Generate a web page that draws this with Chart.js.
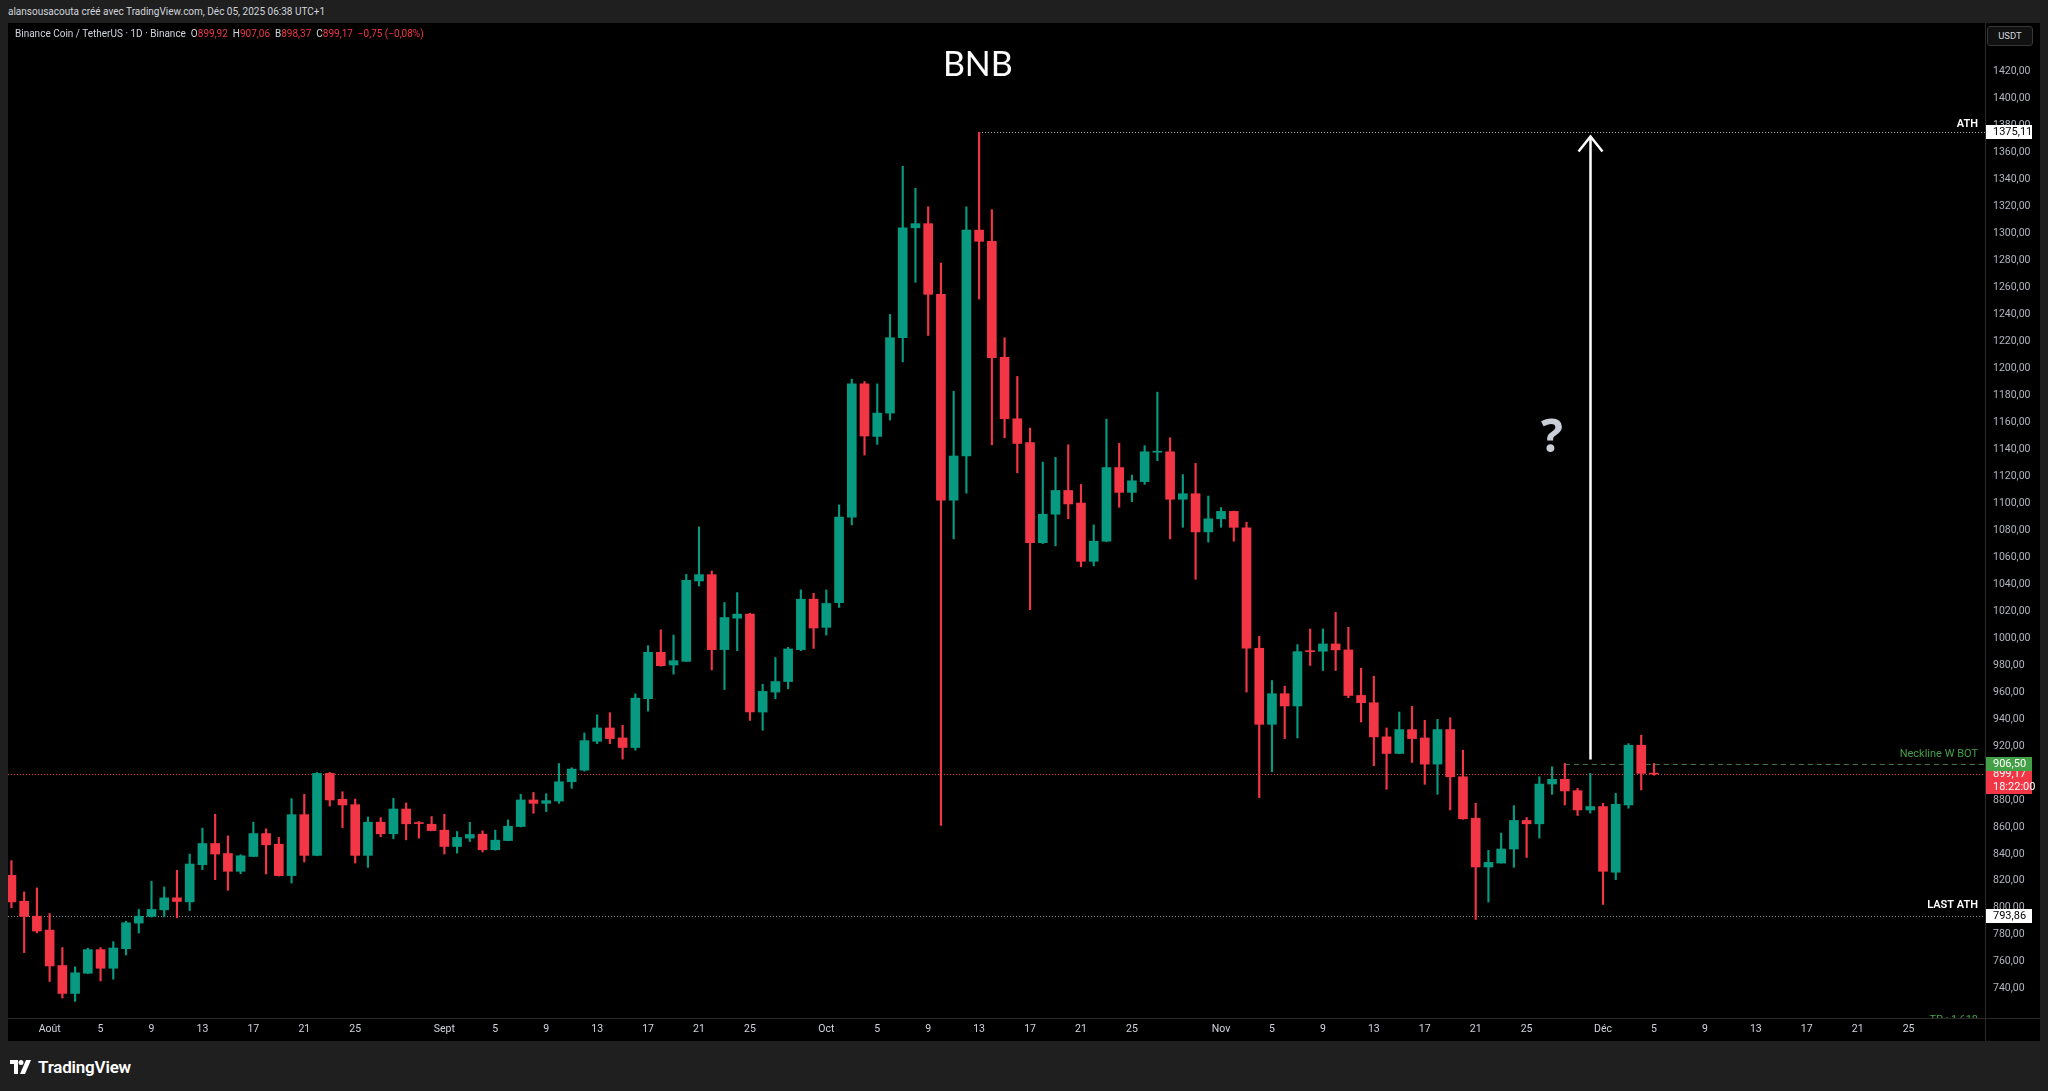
<!DOCTYPE html>
<html>
<head>
<meta charset="utf-8">
<script src="https://cdn.jsdelivr.net/npm/chart.js@4.4.0/dist/chart.umd.min.js"></script>
<style>
  html, body { margin: 0; padding: 0; width: 2048px; height: 1091px; overflow: hidden; background: #1f1f1f; font-family: Roboto, 'DejaVu Sans', sans-serif; }
  #topline { position: absolute; left: 8px; top: 6px; font-size: 10px; color: #d1d4dc; white-space: nowrap; }
  #pane { position: absolute; left: 8px; top: 23px; width: 2032px; height: 1018px; background: #000; }
  #legend { position: absolute; left: 15px; top: 28px; font-size: 10px; color: #d1d4dc; white-space: nowrap; z-index: 2; }
  #legend .v { color: #f23645; }
  #usdt { position: absolute; left: 1987px; top: 26px; width: 46px; height: 20px; box-sizing: border-box; border: 1px solid #363636; border-radius: 3px; background: #111; color: #d1d4dc; font-size: 9.5px; line-height: 18px; text-align: center; z-index: 2; }
  #logo { position: absolute; left: 10px; top: 1057px; color: #fff; font-size: 17px; font-weight: 600; display: flex; align-items: center; gap: 6px; letter-spacing: -0.2px; }
</style>
</head>
<body>
<div id="topline">alansousacouta créé avec TradingView.com, Déc 05, 2025 06:38 UTC+1</div>
<div id="pane"><canvas id="chart"></canvas></div>
<div id="legend">Binance Coin / TetherUS · 1D · Binance &nbsp;O<span class="v">899,92</span> &nbsp;H<span class="v">907,06</span> &nbsp;B<span class="v">898,37</span> &nbsp;C<span class="v">899,17</span> &nbsp;<span class="v">−0,75 (−0,08%)</span></div>
<div id="usdt">USDT</div>
<div id="logo">
  <svg width="22" height="14" viewBox="0 0 22 14"><path d="M0 0h8v14H4V4H0z" fill="#fff"/><circle cx="11" cy="2.5" r="2.5" fill="#fff"/><path d="M16 0h5l-6 14h-5z" fill="#fff"/></svg>
  <span>TradingView</span>
</div>
<script>
// daily candles, 29 Jul 2025 -> 5 Dec 2025 (index 0 = 29 Jul)
const opens = [824.1,804.9,793.8,783.5,757.2,736.5,751.5,769.0,755.2,769.7,788.7,793.6,798.5,807.4,804.4,832.0,847.7,840.3,827.1,838.1,
  855.1,847.2,823.9,869.1,838.9,899.7,880.5,876.5,838.9,863.5,854.9,873.3,862.8,862.0,857.6,845.5,851.7,854.6,843.1,849.9,
  860.3,880.0,877.5,879.2,893.5,902.1,923.5,933.4,926.0,918.9,955.1,989.5,980.1,982.8,1042.4,1047.1,991.5,1014.8,1017.8,945.2,
  960.0,967.8,991.5,1028.9,1008.0,1026.3,1089.8,1188.6,1149.6,1166.9,1222.8,1304.3,1307.4,1255.0,1102.3,1135.1,1302.6,1294.3,1208.3,1162.7,
  1145.1,1070.8,1091.9,1109.5,1100.2,1057.0,1071.9,1126.5,1108.1,1116.1,1137.9,1138.2,1103.0,1107.1,1078.8,1088.5,1094.0,1081.8,992.5,936.1,
  958.8,949.7,990.3,990.3,995.7,991.3,957.5,952.1,926.8,914.5,932.2,926.0,906.6,932.2,897.2,866.5,830.3,833.2,843.6,864.8,
  862.3,891.8,895.3,886.9,872.6,875.1,826.4,876.3,920.6,899.92];
const highs = [835.0,811.8,814.8,795.8,770.5,756.2,770.0,770.5,774.9,790.1,798.8,819.7,815.5,827.8,839.9,859.1,869.4,853.4,839.4,863.5,
  858.6,852.2,881.0,884.2,900.4,900.4,886.1,880.7,867.4,866.9,881.2,877.8,864.0,867.7,869.4,856.6,863.5,857.1,857.6,865.2,
  884.2,885.6,884.7,907.0,903.9,929.7,943.2,944.7,935.4,958.7,994.4,1006.2,1002.3,1047.3,1082.5,1049.8,1026.4,1033.8,1018.5,965.9,
  985.6,993.2,1035.8,1033.3,1035.8,1098.8,1192.1,1190.3,1188.6,1240.1,1349.9,1333.7,1319.9,1278.1,1183.1,1319.9,1375.11,1317.8,1222.8,1194.1,
  1155.8,1130.6,1134.1,1143.4,1114.0,1084.0,1162.4,1144.4,1120.9,1142.7,1182.4,1148.6,1121.3,1129.6,1105.4,1096.8,1094.3,1086.0,1001.3,968.6,
  964.4,995.2,1006.8,1006.8,1019.1,1008.0,977.7,971.8,933.4,945.2,949.4,939.1,939.8,941.0,916.9,877.5,842.6,855.4,875.8,867.0,
  897.2,904.6,907.1,888.6,899.7,877.5,884.9,921.8,928.0,907.06];
const lows = [800.0,766.8,781.5,745.4,733.1,730.6,751.3,745.8,747.1,765.0,781.3,793.1,793.3,792.6,798.0,828.3,820.9,813.0,825.3,837.9,
  825.1,823.6,818.4,834.0,838.6,875.5,859.5,833.2,830.0,852.7,851.2,850.4,851.7,857.1,839.9,840.6,849.2,841.4,842.8,849.7,
  860.0,870.1,871.4,877.5,888.6,901.4,921.8,921.8,910.3,916.9,945.9,979.2,973.3,982.6,1038.7,976.4,961.9,990.7,939.0,931.7,
  955.1,962.4,990.7,992.4,1002.3,1022.8,1084.0,1135.8,1143.7,1161.7,1204.9,1263.9,1224.5,861.2,1073.6,1107.5,1251.5,1143.4,1148.6,1122.6,
  1021.1,1070.1,1068.4,1088.5,1052.9,1053.6,1071.5,1097.1,1101.2,1114.0,1131.6,1073.6,1082.2,1043.6,1071.2,1082.2,1071.9,960.0,881.7,900.9,
  925.5,926.0,979.7,976.0,976.0,955.8,937.8,905.4,887.9,914.2,907.8,891.6,884.2,872.6,865.7,791.4,804.3,833.2,830.1,837.4,
  851.7,884.2,876.3,868.5,870.2,802.5,820.9,873.9,887.4,898.37];
const closes = [804.4,793.6,782.8,756.9,736.5,751.8,769.0,755.2,770.2,788.9,793.8,798.8,807.4,804.7,832.5,847.7,839.9,827.1,838.6,855.1,
  846.7,823.9,869.1,838.9,899.7,880.0,876.3,838.9,863.5,854.9,873.3,862.3,862.5,857.3,845.5,852.2,854.4,843.1,850.2,860.5,
  880.0,877.5,879.5,893.5,902.9,924.0,933.4,925.5,918.9,955.5,989.5,979.6,983.3,1042.9,1047.1,991.5,1015.3,1017.8,945.2,960.5,
  967.8,992.0,1028.9,1007.5,1025.7,1089.8,1188.6,1149.9,1166.9,1222.8,1304.3,1307.4,1255.0,1102.3,1135.1,1302.6,1294.3,1208.0,1162.7,1144.4,
  1070.8,1091.9,1109.5,1099.5,1057.0,1071.9,1126.5,1108.1,1116.7,1138.2,1138.5,1103.0,1107.1,1078.8,1088.5,1094.0,1082.2,992.5,936.1,958.8,
  949.7,990.0,990.0,995.7,991.3,957.5,952.1,926.8,914.5,932.2,925.5,906.6,932.2,897.2,866.0,830.3,833.7,843.6,864.8,862.3,
  891.8,895.3,886.7,872.6,875.1,827.1,876.8,920.6,899.7,899.17];

// time axis: candle index of each label
const tickIdx = [3,7,11,15,19,23,27,34,38,42,46,50,54,58,64,68,72,76,80,84,88,95,99,103,107,111,115,119,125,129,133,137,141,145,149];
const tickLabels = ['Août','5','9','13','17','21','25','Sept','5','9','13','17','21','25','Oct','5','9','13','17','21','25',
  'Nov','5','9','13','17','21','25','Déc','5','9','13','17','21','25'];

// drawn levels
const athPrice = 1375.11;
const athIdx = 76;          // 13 Oct
const lastAthPrice = 793.86;
const necklinePrice = 906.50;
const necklineIdx = 122;    // 28 Nov
const lastPrice = 899.17;
const arrowIdx = 124;       // 30 Nov
const arrowFrom = 910;
const arrowTo = 1372;

const GREEN = '#089981', RED = '#f23645';
const colors = closes.map((c, i) => c >= opens[i] ? GREEN : RED);
const fmt = v => v.toFixed(2).replace('.', ',');

const overlay = {
  id: 'overlay',
  beforeDatasetsDraw(chart) {
    const { ctx, chartArea: a, scales: { x, y } } = chart;
    ctx.save();
    ctx.beginPath(); ctx.rect(a.left, a.top, a.right - a.left, a.bottom - a.top); ctx.clip();
    ctx.lineWidth = 1;
    const hline = (p, x0, color, dash) => {
      const py = Math.round(y.getPixelForValue(p)) + 0.5;
      ctx.strokeStyle = color; ctx.setLineDash(dash);
      ctx.beginPath(); ctx.moveTo(x0, py); ctx.lineTo(a.right, py); ctx.stroke();
    };
    hline(lastAthPrice, a.left, '#8a8d96', [1, 2]);
    hline(athPrice, x.getPixelForValue(athIdx), '#b8bbc4', [1, 2]);
    hline(lastPrice, a.left, RED, [1, 2]);
    hline(necklinePrice, x.getPixelForValue(necklineIdx), 'rgba(80,150,85,0.8)', [5, 4]);
    ctx.restore();
  },
  afterDraw(chart) {
    const { ctx, chartArea: a, scales: { x, y } } = chart;
    ctx.save();
    // separators
    ctx.strokeStyle = '#2b2b2b'; ctx.lineWidth = 1; ctx.setLineDash([]);
    ctx.beginPath(); ctx.moveTo(a.right + 0.5, 0); ctx.lineTo(a.right + 0.5, chart.height); ctx.stroke();
    ctx.beginPath(); ctx.moveTo(0, a.bottom + 0.5); ctx.lineTo(chart.width, a.bottom + 0.5); ctx.stroke();

    ctx.save();
    ctx.beginPath(); ctx.rect(a.left, a.top, a.right - a.left, a.bottom - a.top); ctx.clip();
    // title
    ctx.fillStyle = '#ffffff'; ctx.textAlign = 'center'; ctx.textBaseline = 'middle';
    ctx.font = '34px Lato, "Open Sans", sans-serif';
    ctx.fillText('BNB', x.getPixelForValue(75.9), y.getPixelForValue(1425));
    // arrow
    const ax = Math.round(x.getPixelForValue(arrowIdx)) + 0.5;
    const ay0 = y.getPixelForValue(arrowFrom), ay1 = y.getPixelForValue(arrowTo);
    ctx.strokeStyle = '#ffffff'; ctx.lineWidth = 2.5; ctx.lineCap = 'butt';
    ctx.beginPath(); ctx.moveTo(ax, ay0); ctx.lineTo(ax, ay1); ctx.stroke();
    ctx.beginPath(); ctx.moveTo(ax - 12, ay1 + 15); ctx.lineTo(ax, ay1); ctx.lineTo(ax + 12, ay1 + 15); ctx.stroke();
    // question mark
    ctx.fillStyle = '#c9ced8'; ctx.font = 'bold 46px "Open Sans", sans-serif';
    ctx.fillText('?', x.getPixelForValue(121), y.getPixelForValue(1148));
    // level labels
    ctx.textAlign = 'right'; ctx.textBaseline = 'alphabetic';
    ctx.font = '600 11px Roboto, sans-serif';
    ctx.fillStyle = '#ffffff';
    ctx.fillText('ATH', a.right - 7, y.getPixelForValue(athPrice) - 5);
    ctx.fillText('LAST ATH', a.right - 7, y.getPixelForValue(lastAthPrice) - 8);
    ctx.font = '11px Roboto, sans-serif';
    ctx.fillStyle = '#43a047';
    ctx.fillText('Neckline W BOT', a.right - 7, y.getPixelForValue(necklinePrice) - 7);
    ctx.textBaseline = 'top';
    ctx.fillText('TP : 1,618', a.right - 7, a.bottom - 3);
    ctx.restore();

    // price axis tags
    const tag = (p, bg, fg, lines) => {
      const h = lines.length === 1 ? 14 : 27;
      const top = Math.round(y.getPixelForValue(p) - 7);
      ctx.fillStyle = bg;
      ctx.fillRect(a.right + 1, top, 46, h);
      ctx.fillStyle = fg; ctx.textAlign = 'left'; ctx.textBaseline = 'middle';
      ctx.font = '11px Roboto, sans-serif';
      lines.forEach((t, i) => ctx.fillText(t, a.right + 8, top + 7.5 + i * 12.5));
    };
    tag(athPrice, '#ffffff', '#000000', [fmt(athPrice)]);
    tag(lastAthPrice, '#ffffff', '#000000', [fmt(lastAthPrice)]);
    tag(lastPrice, RED, '#ffffff', [fmt(lastPrice), '18:22:00']);
    tag(necklinePrice, '#43a047', '#ffffff', [fmt(necklinePrice)]);
    ctx.restore();
  }
};

new Chart(document.getElementById('chart'), {
  type: 'bar',
  data: {
    datasets: [
      {
        label: 'wick',
        data: lows.map((l, i) => ({ x: i, y: [l, highs[i]] })),
        backgroundColor: colors,
        barThickness: 1.5,
        grouped: false,
        order: 2
      },
      {
        label: 'body',
        data: opens.map((o, i) => ({ x: i, y: [o, closes[i]] })),
        backgroundColor: colors,
        barThickness: 9,
        minBarLength: 1,
        grouped: false,
        order: 1
      }
    ]
  },
  options: {
    responsive: true,
    maintainAspectRatio: false,
    animation: false,
    devicePixelRatio: 1,
    layout: { padding: 0 },
    plugins: { legend: { display: false }, tooltip: { enabled: false } },
    scales: {
      x: {
        type: 'linear',
        min: -0.27,
        max: 155,
        offset: false,
        grid: { display: false, drawTicks: false },
        border: { display: false },
        afterBuildTicks: s => { s.ticks = tickIdx.map(v => ({ value: v })); },
        afterFit: s => { s.height = 23; s.paddingLeft = 0; s.paddingRight = 0; },
        ticks: {
          autoSkip: false, maxRotation: 0, padding: 5,
          color: '#d1d4dc', font: { size: 10.5, family: 'Roboto' },
          callback: (v, i) => tickLabels[i]
        }
      },
      y: {
        type: 'linear',
        position: 'right',
        min: 718.3,
        max: 1456.2,
        grid: { display: false, drawTicks: false },
        border: { display: false },
        afterBuildTicks: s => { s.ticks = s.ticks.filter(t => t.value >= 740 && t.value <= 1420); },
        afterFit: s => { s.width = 55; s.paddingTop = 0; s.paddingBottom = 0; },
        ticks: {
          stepSize: 20, padding: 8, includeBounds: false,
          color: '#b2b5be', font: { size: 10.5, family: 'Roboto' },
          callback: v => fmt(v)
        }
      }
    }
  },
  plugins: [overlay]
});
</script>
</body>
</html>
